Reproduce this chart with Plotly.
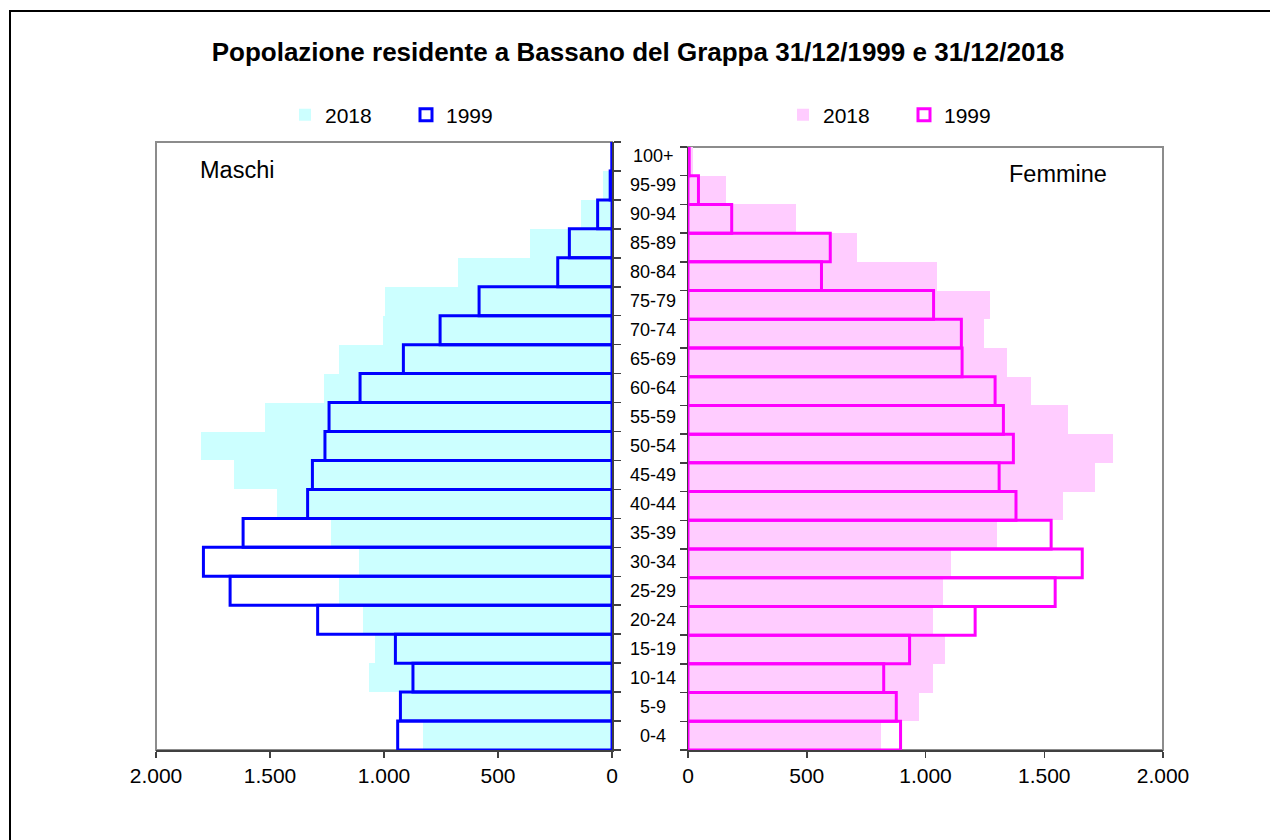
import plotly.graph_objects as go

W, H = 1270, 840

categories = ['0-4', '5-9', '10-14', '15-19', '20-24', '25-29', '30-34', '35-39',
              '40-44', '45-49', '50-54', '55-59', '60-64', '65-69', '70-74',
              '75-79', '80-84', '85-89', '90-94', '95-99', '100+']

maschi_2018 = [827, 920, 1066, 1039, 1092, 1197, 1110, 1232, 1469, 1658, 1803,
               1522, 1265, 1197, 1003, 996, 674, 360, 136, 38, 4]
maschi_1999 = [940, 928, 873, 950, 1291, 1675, 1792, 1618, 1335, 1314, 1259,
               1241, 1105, 915, 754, 583, 238, 187, 63, 8, 1]
femmine_2018 = [814, 973, 1030, 1080, 1033, 1072, 1109, 1299, 1580, 1713, 1788,
                1602, 1446, 1342, 1248, 1270, 1050, 713, 455, 159, 22]
femmine_1999 = [895, 877, 824, 933, 1209, 1546, 1660, 1529, 1381, 1310, 1370,
                1328, 1293, 1154, 1151, 1034, 562, 599, 184, 44, 5]

tick_vals = [0, 500, 1000, 1500, 2000]
tick_text = ['0', '500', '1.000', '1.500', '2.000']

FONT = 'Liberation Sans, Arial, sans-serif'
AXC = '#404040'
BOX = '#8c8c8c'


def px_x(x):
    return x / W


def px_y(y):
    return (H - y) / H


fig = go.Figure()

fig.add_trace(go.Bar(y=categories, x=maschi_2018, orientation='h', name='2018',
                     marker=dict(color='#CCFFFF', line=dict(width=0)),
                     width=1, xaxis='x', yaxis='y', legend='legend'))
fig.add_trace(go.Bar(y=categories, x=maschi_1999, orientation='h', name='1999',
                     marker=dict(color='rgba(0,0,0,0)', line=dict(color='#0000FF', width=3)),
                     width=1, xaxis='x', yaxis='y', legend='legend'))
fig.add_trace(go.Bar(y=categories, x=femmine_2018, orientation='h', name='2018',
                     marker=dict(color='#FFCCFF', line=dict(width=0)),
                     width=1, xaxis='x2', yaxis='y2', legend='legend2'))
fig.add_trace(go.Bar(y=categories, x=femmine_1999, orientation='h', name='1999',
                     marker=dict(color='rgba(0,0,0,0)', line=dict(color='#FF00FF', width=3)),
                     width=1, xaxis='x2', yaxis='y2', legend='legend2'))

common_x = dict(tickvals=tick_vals, ticktext=tick_text, ticks='outside', ticklen=6,
                tickcolor=AXC, tickwidth=1.5, showline=True, linecolor=AXC, linewidth=1.5,
                showgrid=False, zeroline=False, tickfont=dict(size=21, color='black'),
                fixedrange=True)
common_y = dict(type='category', categoryorder='array', categoryarray=categories,
                range=[-0.5, len(categories) - 0.5], showticklabels=False,
                ticks='outside', ticklen=7, tickcolor=AXC, tickwidth=1.5, tickson='boundaries',
                showline=True, linecolor=AXC, linewidth=1.5, showgrid=False,
                zeroline=False, layer='below traces', fixedrange=True)

fig.update_layout(
    width=W, height=H,
    margin=dict(l=0, r=0, t=0, b=0, pad=0, autoexpand=False),
    paper_bgcolor='white', plot_bgcolor='white',
    font=dict(family=FONT, color='black'),
    barmode='overlay', bargap=0,
    title=dict(text='<b>Popolazione residente a Bassano del Grappa 31/12/1999 e 31/12/2018</b>',
               x=px_x(638), xanchor='center', y=px_y(52), yanchor='middle',
               font=dict(size=26, family=FONT, color='black')),
    xaxis=dict(domain=[px_x(156), px_x(612)], range=[2000, 0], anchor='y', **common_x),
    yaxis=dict(domain=[px_y(750), px_y(142)], side='right', anchor='x', **common_y),
    xaxis2=dict(domain=[px_x(688), px_x(1163)], range=[0, 2000], anchor='y2', **common_x),
    yaxis2=dict(domain=[px_y(750), px_y(147)], side='left', anchor='x2', **common_y),
    legend=dict(orientation='h', x=px_x(285), xanchor='left', y=px_y(115), yanchor='middle',
                font=dict(size=21, family=FONT), entrywidth=76, bgcolor='rgba(0,0,0,0)',
                traceorder='normal'),
    legend2=dict(orientation='h', x=px_x(783), xanchor='left', y=px_y(115), yanchor='middle',
                 font=dict(size=21, family=FONT), entrywidth=76, bgcolor='rgba(0,0,0,0)',
                 traceorder='normal'),
    showlegend=True,
)

shapes = [
    # gray frames of the two plot areas
    dict(type='rect', xref='x domain', yref='y domain', x0=0, x1=1, y0=0, y1=1,
         line=dict(color=BOX, width=2), layer='below'),
    dict(type='rect', xref='x2 domain', yref='y2 domain', x0=0, x1=1, y0=0, y1=1,
         line=dict(color=BOX, width=2), layer='below'),
    # outer chart border
    dict(type='rect', xref='paper', yref='paper', x0=px_x(10), x1=1.02, y0=-0.02, y1=px_y(11),
         line=dict(color='black', width=2), fillcolor='rgba(0,0,0,0)', layer='below'),
]
fig.update_layout(shapes=shapes)

annotations = [
    dict(text='Maschi', x=px_x(198), xanchor='left', y=px_y(170), yanchor='middle',
         xref='paper', yref='paper', showarrow=False, font=dict(size=23.5, family=FONT)),
    dict(text='Femmine', x=px_x(1109), xanchor='right', y=px_y(174), yanchor='middle',
         xref='paper', yref='paper', showarrow=False, font=dict(size=23.5, family=FONT)),
]
for c in categories:
    annotations.append(dict(text=c, x=px_x(653), xanchor='center', y=c, yref='y',
                            xref='paper', showarrow=False, font=dict(size=18, family=FONT)))
fig.update_layout(annotations=annotations)

fig.write_html('out.html',
               config={'displayModeBar': False, 'staticPlot': True},
               post_script="document.body.style.margin='0';document.body.style.overflow='hidden';")
